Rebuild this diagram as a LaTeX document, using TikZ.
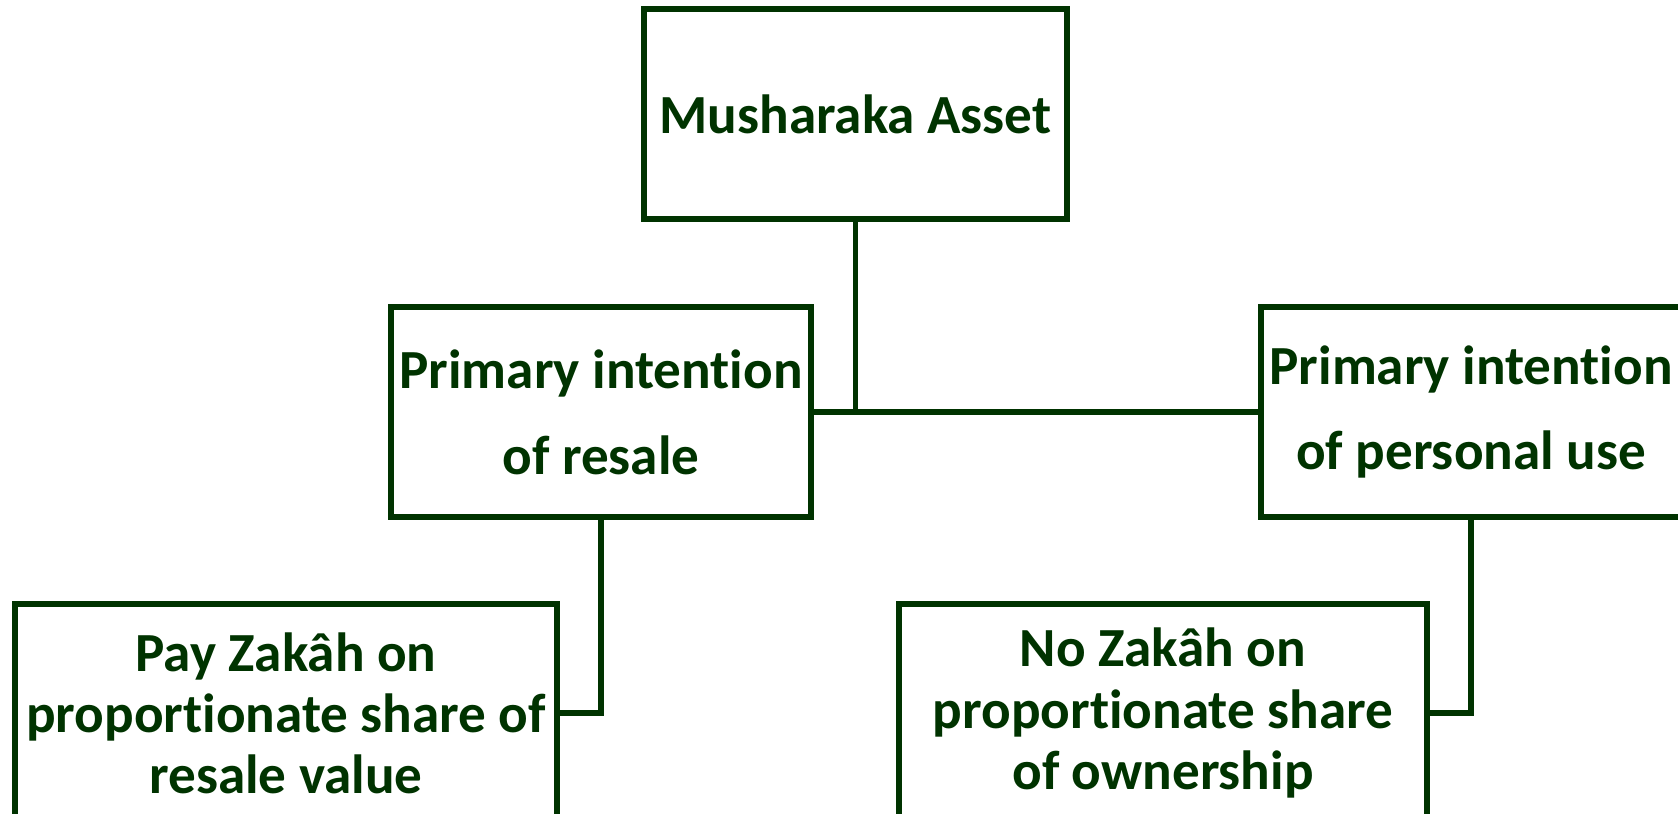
\documentclass[tikz,border=0pt]{standalone}
\definecolor{green1}{RGB}{0, 51, 0}
\usepackage{fontspec}
\setmainfont[Ligatures=NoCommon]{Carlito}
\usepackage{tikz}
\usetikzlibrary{positioning, calc}

\tikzset{
  box/.style={draw=green1, line width=1.5pt, text=green1, font=\bfseries\fontsize{15.7}{17.4}\selectfont,
    align=center, inner sep=0pt, minimum height=2.1cm},
  tallbox/.style={box, font=\bfseries\fontsize{15.7}{24.4}\selectfont},
  link/.style={draw=green1, line width=1.5pt}
}

\begin{document}
\begin{tikzpicture}
  \useasboundingbox (0,0) rectangle (16.78,-8.13);
  \clip (0,0) rectangle (16.78,-8.13);

  \node[box, minimum width=4.23cm] (asset) at (8.555,-1.14) {Musharaka Asset};
  \node[tallbox, minimum width=4.2cm] (resale) at (6.01,-4.12) {Primary intention\\of resale};
  \node[tallbox, minimum width=4.2cm] (personal) at (14.71,-4.12) {Primary intention\\of personal use};
  \node[box, minimum width=5.42cm, minimum height=2.18cm] (pay) at (2.86,-7.13) {Pay Zakâh on\\proportionate share of\\resale value};
  \node[box, minimum width=5.28cm, minimum height=2.18cm] (nozakah) at (11.63,-7.13) {No Zakâh on\\proportionate share\\of ownership};

  \draw[link] (resale.east) -- (personal.west);
  \draw[link] (asset.south) -- (asset.south |- resale.east);
  \draw[link] (resale.south) |- (pay.east);
  \draw[link] (personal.south) |- (nozakah.east);
\end{tikzpicture}
\end{document}
